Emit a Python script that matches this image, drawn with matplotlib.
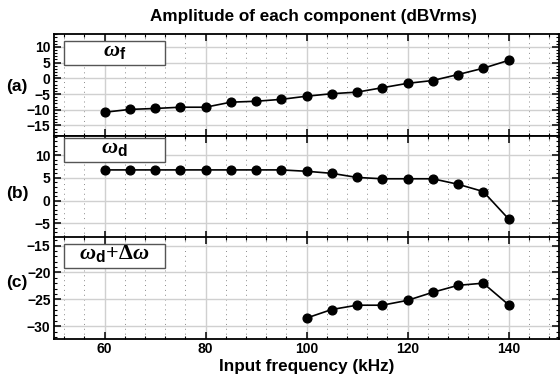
import matplotlib
matplotlib.use('Agg')
import matplotlib.pyplot as plt
from matplotlib.patches import Rectangle
from matplotlib.ticker import MultipleLocator

plt.rcParams['font.family'] = ['Liberation Sans', 'DejaVu Sans']
plt.rcParams['font.weight'] = 'bold'
plt.rcParams['mathtext.fontset'] = 'custom'
plt.rcParams['mathtext.rm'] = 'Liberation Serif'
plt.rcParams['mathtext.it'] = 'Liberation Serif:italic'
plt.rcParams['mathtext.bf'] = 'Liberation Sans:bold'

# data
freq_a = [60, 65, 70, 75, 80, 85, 90, 95, 100, 105, 110, 115, 120, 125, 130, 135, 140]
amp_a = [-10.8, -9.9, -9.6, -9.2, -9.2, -7.6, -7.3, -6.7, -5.7, -4.9, -4.4, -3.0, -1.6, -0.7, 1.2, 3.2, 5.7]
freq_b = freq_a
amp_b = [6.75, 6.75, 6.75, 6.75, 6.75, 6.75, 6.75, 6.75, 6.45, 6.0, 5.1, 4.8, 4.8, 4.8, 3.6, 2.0, -4.0]
freq_c = [100, 105, 110, 115, 120, 125, 130, 135, 140]
amp_c = [-28.5, -26.9, -26.1, -26.1, -25.2, -23.7, -22.4, -22.0, -26.0]

panel_tags = ['(a)', '(b)', '(c)']
panel_names = [r'$\omega_{\mathbf{f}}$', r'$\omega_{\mathbf{d}}$', r'$\omega_{\mathbf{d}}\!+\!\Delta\omega$']
y_limits = [(-18.2, 14.1), (-8.1, 14.2), (-32.3, -13.4)]
y_ticks = [[-15, -10, -5, 0, 5, 10], [-5, 0, 5, 10], [-30, -25, -20, -15]]

fig = plt.figure(figsize=(5.6, 3.87), dpi=100)

left = 54 / 560
width = 505 / 560
tops = [34, 136, 237]
h = 101.5
box_y = [(41, 65), (138, 162), (244, 268)]
tag_y = [86, 193, 283]

series = [(freq_a, amp_a), (freq_b, amp_b), (freq_c, amp_c)]

for i in range(3):
    top = tops[i]
    ax = fig.add_axes([left, 1 - (top + h) / 387, width, h / 387])
    x, y = series[i]
    ax.plot(x, y, color='black', lw=1.2, marker='o', ms=6.3, zorder=3)
    ax.set_xlim(50, 150)
    ax.set_ylim(*y_limits[i])
    ax.set_yticks(y_ticks[i])
    ax.yaxis.set_minor_locator(MultipleLocator(1))
    ax.xaxis.set_major_locator(MultipleLocator(20))
    ax.xaxis.set_minor_locator(MultipleLocator(4))
    ax.grid(True, which='major', color='#d0d0d0', lw=1.0, ls='-', zorder=0)
    ax.grid(True, which='minor', axis='x', color='#8a8a8a', lw=0.7, ls=(0, (1, 4)), zorder=0)
    ax.tick_params(which='both', direction='in', top=True, right=True, labelsize=10, pad=2.5)
    ax.tick_params(which='major', length=5, width=1.1)
    ax.tick_params(which='minor', length=2.5, width=0.8)
    for s in ax.spines.values():
        s.set_linewidth(1.3)
    for lab in ax.get_yticklabels() + ax.get_xticklabels():
        lab.set_fontweight('bold')
    if i < 2:
        ax.tick_params(labelbottom=False)
    else:
        ax.set_xlabel('Input frequency (kHz)', fontsize=12.3, fontweight='bold', labelpad=2)

    # label box in the upper left corner
    b0, b1 = box_y[i]
    y0 = (top + h - b1) / h
    y1 = (top + h - b0) / h
    ax.add_patch(Rectangle((0.0198, y0), 0.2, y1 - y0, transform=ax.transAxes,
                           facecolor='white', edgecolor='#555555', lw=1.0, zorder=4))
    ax.text(0.0198 + 0.1, (y0 + y1) / 2 + 0.02, panel_names[i], transform=ax.transAxes,
            ha='center', va='center', fontsize=16, zorder=5)

    fig.text(17 / 560, 1 - tag_y[i] / 387, panel_tags[i], ha='center', va='center',
             fontsize=12.5, fontweight='bold')

fig.text(313 / 560, 1 - 16 / 387, 'Amplitude of each component (dBVrms)',
         ha='center', va='center', fontsize=12.3, fontweight='bold')

fig.savefig('out.png', dpi=100)
